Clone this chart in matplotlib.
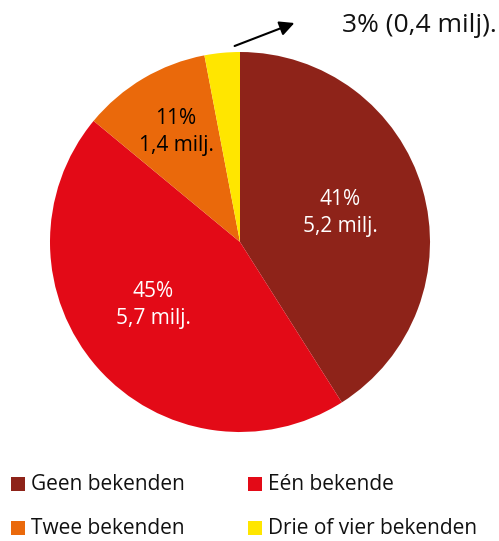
import matplotlib.pyplot as plt
from matplotlib.patches import Rectangle

plt.rcParams['font.family'] = ['Open Sans', 'DejaVu Sans']

# Data
categories = ['Geen bekenden', 'Eén bekende', 'Twee bekenden', 'Drie of vier bekenden']
shares = [41, 45, 11, 3]
millions = ['5,2', '5,7', '1,4', '0,4']
colors = ['#8E2319', '#E30A17', '#EA690B', '#FFE600']

W, H = 499, 541
fig = plt.figure(figsize=(W / 100, H / 100), dpi=100)
ax = fig.add_axes([0, 0, 1, 1])

cx, cy, r = 240, H - 242, 190
ax.pie(shares, colors=colors, startangle=90, counterclock=False,
       center=(cx, cy), radius=r, frame=True,
       wedgeprops=dict(linewidth=0))
ax.set_xlim(0, W)
ax.set_ylim(0, H)
ax.set_aspect('equal')
ax.axis('off')

# Slice labels
label_pos = [(340, H - 213), (153, H - 305), (176, H - 132)]
label_col = ['white', 'white', 'black']
for i, (x, y) in enumerate(label_pos):
    ax.text(x, y, f'{shares[i]}%\n{millions[i]} milj.', ha='center', va='center',
            fontsize=15, color=label_col[i], linespacing=1.42)

# Small slice annotation
ax.annotate('', xy=(297, H - 22), xytext=(232, H - 47),
            arrowprops=dict(arrowstyle='-|>', color='black', lw=1.5, mutation_scale=22))
ax.text(497, H - 25, f'{shares[3]}% ({millions[3]} milj).', ha='right', va='center',
        fontsize=19, color='#111111')

# Legend
leg_pos = [(11, H - 484), (248, H - 484), (11, H - 528), (248, H - 528)]
for (x, y), c, name in zip(leg_pos, colors, categories):
    ax.add_patch(Rectangle((x, y - 7), 14, 14, color=c, lw=0))
    ax.text(x + 20, y, name, ha='left', va='center', fontsize=15, color='#111111')

fig.savefig('out.png', dpi=100)
